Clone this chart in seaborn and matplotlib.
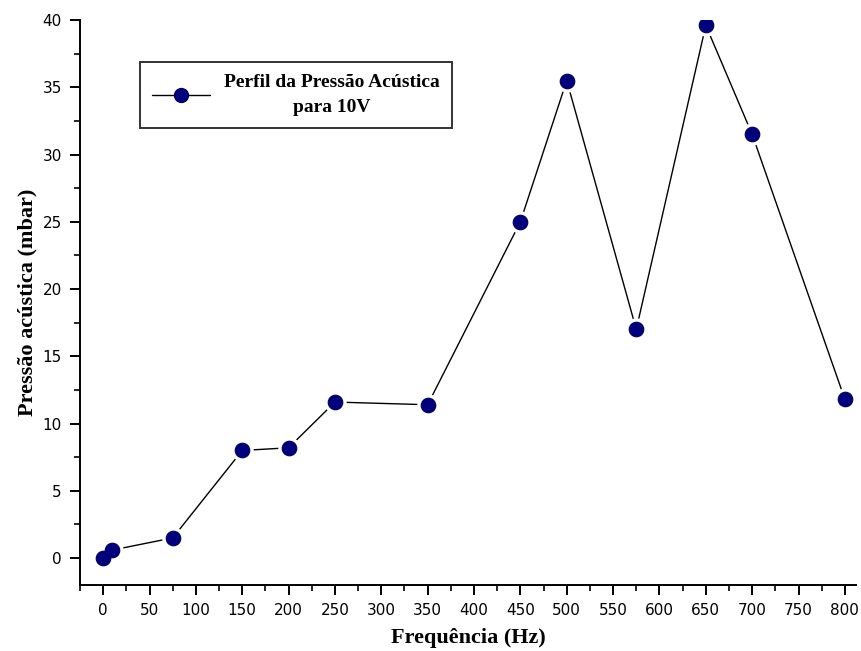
import matplotlib
matplotlib.use("Agg")
import matplotlib.pyplot as plt
from matplotlib.lines import Line2D
from matplotlib.ticker import MultipleLocator
import pandas as pd
import seaborn as sns

# Acoustic pressure profile measured at 10 V
frequencia = [0, 10, 75, 150, 200, 250, 350, 450, 500, 575, 650, 700, 800]
pressao = [0.0, 0.6, 1.5, 8.0, 8.2, 11.6, 11.4, 25.0, 35.5, 17.0, 39.6, 31.5, 11.8]
legenda = "Perfil da Pressão Acústica\npara 10V"

df = pd.DataFrame({"Frequência (Hz)": frequencia, "Pressão acústica (mbar)": pressao})

sns.set_theme(style="ticks")
plt.rcParams["font.family"] = ["DejaVu Sans"]
plt.rcParams["text.color"] = "black"
plt.rcParams["axes.labelcolor"] = "black"

fig = plt.figure(figsize=(8.61, 6.51), dpi=100)
ax = fig.add_axes([80 / 861, 66 / 651, 776 / 861, 565 / 651])

sns.lineplot(data=df, x="Frequência (Hz)", y="Pressão acústica (mbar)", ax=ax,
             color="black", linewidth=1.0, zorder=2)
# white halo leaves a small gap between the line and each marker
sns.scatterplot(data=df, x="Frequência (Hz)", y="Pressão acústica (mbar)", ax=ax,
                color="white", s=260, linewidth=0, zorder=3)
sns.scatterplot(data=df, x="Frequência (Hz)", y="Pressão acústica (mbar)", ax=ax,
                color="#00007f", edgecolor="#00005a", s=110, linewidth=0.8, zorder=4)

ax.set_xlim(-25, 812)
ax.set_ylim(-2, 40)
ax.xaxis.set_major_locator(MultipleLocator(50))
ax.xaxis.set_minor_locator(MultipleLocator(25))
ax.yaxis.set_major_locator(MultipleLocator(5))
ax.yaxis.set_minor_locator(MultipleLocator(2.5))
ax.tick_params(axis="both", which="major", direction="out", length=7, width=1.4,
               color="black", labelsize=11, labelcolor="black", pad=6)
ax.tick_params(axis="both", which="minor", direction="out", length=4, width=1.2,
               color="black")

for side in ("top", "right"):
    ax.spines[side].set_visible(False)
for side in ("left", "bottom"):
    ax.spines[side].set_color("black")
    ax.spines[side].set_linewidth(1.4)

lab_font = dict(family=["Liberation Serif", "DejaVu Serif"], weight="bold", size=16)
ax.set_xlabel("Frequência (Hz)", fontdict=lab_font, labelpad=7, color="black")
ax.set_ylabel("Pressão acústica (mbar)", fontdict=lab_font, labelpad=4, color="black")

handle = Line2D([0], [0], color="black", linewidth=1.0, marker="o",
                markersize=10, markerfacecolor="#00007f", markeredgecolor="#00005a")
leg = ax.legend([handle], [legenda], loc="upper left",
                bbox_to_anchor=((140 - 80) / 776, (585 - 62) / 565),
                frameon=True, fancybox=False, shadow=False, handlelength=3.0,
                borderpad=0.62, handletextpad=0.7, borderaxespad=0,
                prop=dict(family=["Liberation Serif", "DejaVu Serif"], weight="bold", size=14))
leg.get_frame().set_edgecolor("black")
leg.get_frame().set_linewidth(1.4)
for t in leg.get_texts():
    t.set_multialignment("center")
    t.set_linespacing(1.6)
    t.set_color("black")

fig.savefig("out.png", dpi=100, facecolor="white")
